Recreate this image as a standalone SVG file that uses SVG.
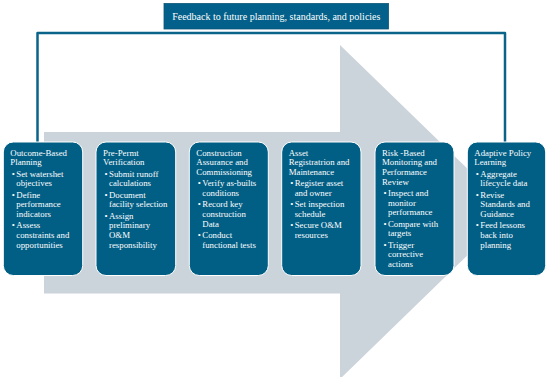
<svg xmlns="http://www.w3.org/2000/svg" width="550" height="377" viewBox="0 0 550 377">
<style>
.box{fill:#015e85;stroke:#ffffff;stroke-width:1}
.t{font-family:"Liberation Serif","Times New Roman",serif;font-size:8.8px;fill:#ffffff}
.hdr{font-family:"Liberation Serif","Times New Roman",serif;font-size:10px;fill:#ffffff}
.link{fill:none;stroke:#0a648a;stroke-width:2.5;stroke-linejoin:round}
</style>
<rect width="550" height="377" fill="#ffffff"/>
<polygon id="arrow" points="44,132 340,132 340,45 512,212 340,379 340,293.5 44,293.5" fill="#cbd3db"/>
<g id="connectors">
<path class="link" d="M37.5,142 V33 H505 V142"/>
</g>
<g id="feedback">
<rect x="164" y="3.5" width="224.5" height="25.5" fill="#02608a" stroke="#0a5576" stroke-width="0.8"/>
<text class="hdr" x="276.3" y="20" text-anchor="middle">Feedback to future planning, standards, and policies</text>
</g>
<g id="n1">
<rect class="box" x="3.3" y="142" width="79.4" height="133.5" rx="10"/>
<text class="t"><tspan x="10.3" y="155.5">Outcome-Based</tspan><tspan x="10.3" y="165.2">Planning</tspan>
<tspan x="11.8" y="176.5">•</tspan><tspan x="16.3" y="176.5">Set watershet</tspan><tspan x="16.3" y="186.2">objectives</tspan>
<tspan x="11.8" y="197.5">•</tspan><tspan x="16.3" y="197.5">Define</tspan><tspan x="16.3" y="207.2">performance</tspan><tspan x="16.3" y="216.9">indicators</tspan>
<tspan x="11.8" y="228.2">•</tspan><tspan x="16.3" y="228.2">Assess</tspan><tspan x="16.3" y="237.9">constraints and</tspan><tspan x="16.3" y="247.6">opportunities</tspan></text>
</g>
<g id="n2">
<rect class="box" x="96" y="142" width="79.7" height="133.5" rx="10"/>
<text class="t"><tspan x="103" y="155.5">Pre-Permt</tspan><tspan x="103" y="165.2">Verification</tspan>
<tspan x="104.5" y="176.5">•</tspan><tspan x="109" y="176.5">Submit runoff</tspan><tspan x="109" y="186.2">calculations</tspan>
<tspan x="104.5" y="197.5">•</tspan><tspan x="109" y="197.5">Document</tspan><tspan x="109" y="207.2">facility selection</tspan>
<tspan x="104.5" y="218.5">•</tspan><tspan x="109" y="218.5">Assign</tspan><tspan x="109" y="228.2">preliminary</tspan><tspan x="109" y="237.9">O&amp;M</tspan><tspan x="109" y="247.6">responsibility</tspan></text>
</g>
<g id="n3">
<rect class="box" x="189.3" y="142" width="79" height="133.5" rx="10"/>
<text class="t"><tspan x="196.3" y="155.5">Construction</tspan><tspan x="196.3" y="165.2">Assurance and</tspan><tspan x="196.3" y="174.9">Commissioning</tspan>
<tspan x="197.8" y="186.2">•</tspan><tspan x="202.3" y="186.2">Verify as-builts</tspan><tspan x="202.3" y="195.9">conditions</tspan>
<tspan x="197.8" y="207.2">•</tspan><tspan x="202.3" y="207.2">Record key</tspan><tspan x="202.3" y="216.9">construction</tspan><tspan x="202.3" y="226.6">Data</tspan>
<tspan x="197.8" y="237.9">•</tspan><tspan x="202.3" y="237.9">Conduct</tspan><tspan x="202.3" y="247.6">functional tests</tspan></text>
</g>
<g id="n4">
<rect class="box" x="281.7" y="142" width="79.3" height="133.5" rx="10"/>
<text class="t"><tspan x="288.7" y="155.5">Asset</tspan><tspan x="288.7" y="165.2">Registratrion and</tspan><tspan x="288.7" y="174.9">Maintenance</tspan>
<tspan x="290.2" y="186.2">•</tspan><tspan x="294.7" y="186.2">Register asset</tspan><tspan x="294.7" y="195.9">and owner</tspan>
<tspan x="290.2" y="207.2">•</tspan><tspan x="294.7" y="207.2">Set inspection</tspan><tspan x="294.7" y="216.9">schedule</tspan>
<tspan x="290.2" y="228.2">•</tspan><tspan x="294.7" y="228.2">Secure O&amp;M</tspan><tspan x="294.7" y="237.9">resources</tspan></text>
</g>
<g id="n5">
<rect class="box" x="375" y="142" width="79" height="133.5" rx="10"/>
<text class="t"><tspan x="382" y="155.5">Risk -Based</tspan><tspan x="382" y="165.2">Monitoring and</tspan><tspan x="382" y="174.9">Performance</tspan><tspan x="382" y="184.6">Review</tspan>
<tspan x="383.5" y="195.9">•</tspan><tspan x="388" y="195.9">Inspect and</tspan><tspan x="388" y="205.6">monitor</tspan><tspan x="388" y="215.3">performance</tspan>
<tspan x="383.5" y="226.6">•</tspan><tspan x="388" y="226.6">Compare with</tspan><tspan x="388" y="236.3">targets</tspan>
<tspan x="383.5" y="247.6">•</tspan><tspan x="388" y="247.6">Trigger</tspan><tspan x="388" y="257.3">corrective</tspan><tspan x="388" y="267">actions</tspan></text>
</g>
<g id="n6">
<rect class="box" x="467.3" y="142" width="78.4" height="133.5" rx="10"/>
<text class="t"><tspan x="474.3" y="155.5">Adaptive Policy</tspan><tspan x="474.3" y="165.2">Learning</tspan>
<tspan x="475.8" y="176.5">•</tspan><tspan x="480.3" y="176.5">Aggregate</tspan><tspan x="480.3" y="186.2">lifecycle data</tspan>
<tspan x="475.8" y="197.5">•</tspan><tspan x="480.3" y="197.5">Revise</tspan><tspan x="480.3" y="207.2">Standards and</tspan><tspan x="480.3" y="216.9">Guidance</tspan>
<tspan x="475.8" y="228.2">•</tspan><tspan x="480.3" y="228.2">Feed lessons</tspan><tspan x="480.3" y="237.9">back into</tspan><tspan x="480.3" y="247.6">planning</tspan></text>
</g>
</svg>
